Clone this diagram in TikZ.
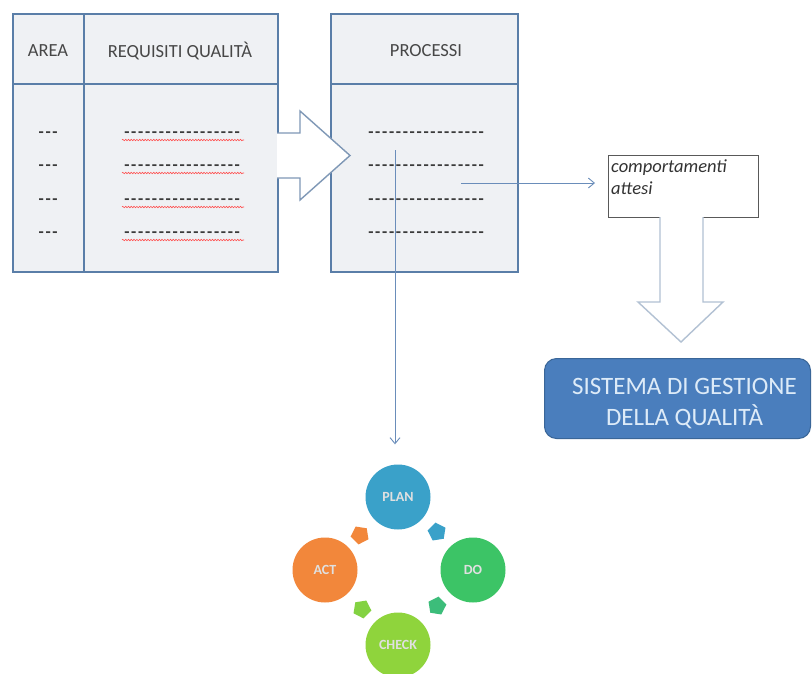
\documentclass[tikz,border=0pt]{standalone}
\usepackage{fontspec}
\setmainfont{Carlito}
\usetikzlibrary{decorations.pathmorphing,arrows.meta,shapes.geometric}

\definecolor{tblborder}{HTML}{5A7EA8}
\definecolor{tblfill}{HTML}{EFF1F4}
\definecolor{bigarrow}{HTML}{7F98B6}
\definecolor{thinarrow}{HTML}{6A8DBA}
\definecolor{sgqfill}{HTML}{4A7EBD}
\definecolor{sgqdraw}{HTML}{3A6698}
\definecolor{sgqtext}{HTML}{DDEBF8}
\definecolor{planc}{HTML}{3AA1C9}
\definecolor{doc}{HTML}{3CC466}
\definecolor{actc}{HTML}{F2873B}
\definecolor{checkc}{HTML}{8FD43C}
\definecolor{dotc}{HTML}{3A3A3A}

\tikzset{
  tablebox/.style={draw=tblborder, line width=1.6pt, fill=tblfill, anchor=north west, inner sep=0pt},
  divider/.style={draw=tblborder, line width=1.6pt},
  headtxt/.style={font=\fontsize{18.5}{20}\selectfont, text=black!72},
  dotrow/.style={font=\fontsize{17}{18}\selectfont\bfseries, text=dotc, inner sep=0pt},
  wavy/.style={draw=red!70, line width=0.6pt, decorate, decoration={snake, amplitude=0.7pt, segment length=2.8pt}},
  hollow/.style={draw=bigarrow, line width=1.4pt, fill=white, line join=miter},
  thin/.style={draw=thinarrow, line width=0.9pt, -{Straight Barb[length=6pt,width=10pt]}},
  pdca/.style={circle, minimum size=65pt, inner sep=0pt, text=white!88!black, font=\fontsize{14}{16}\selectfont\bfseries},
  tick/.style={regular polygon, regular polygon sides=5, minimum size=19pt, inner sep=0pt}
}

\newcommand\dashline[1]{\foreach \k in {1,...,#1}{-\kern1.7pt}}

\begin{document}
\begin{tikzpicture}[x=1pt,y=-1pt]
\useasboundingbox (0,0) rectangle (812,673);
\fill[white] (0,0) rectangle (812,673);

% --- table AREA / REQUISITI QUALITA'
\node[tablebox, minimum width=265pt, minimum height=258pt] (req) at (12,13) {};
\draw[divider] (12,84) -- (277,84);
\draw[divider] (84,13) -- (84,271);
\node[headtxt] (harea) at (48,51) {AREA};
\node[headtxt] (hreq) at (180,51) {REQUISITI QUALITÀ};
\foreach \y/\n in {135/a,168/b,202/c,235/d}{
  \node[dotrow] (area\n) at (49,\y) {\dashline{3}};
  \node[dotrow] (req\n) at (183,\y) {\dashline{17}};
  \draw[wavy] (122,\y+5) -- (244,\y+5);
}

% --- table PROCESSI
\node[tablebox, minimum width=187pt, minimum height=258pt] (proc) at (330,13) {};
\draw[divider] (330,84) -- (517,84);
\node[headtxt] (hproc) at (426,51) {PROCESSI};
\foreach \y/\n in {135/a,168/b,202/c,235/d}{
  \node[dotrow] (proc\n) at (427,\y) {\dashline{17}};
}

% --- block arrow between the tables
\draw[hollow] (277,133) -- (300,133) -- (300,111) -- (350,155.5) -- (300,200) -- (300,178) -- (277,178);

% --- expected behaviours
\node[draw=black!65, line width=0.9pt, fill=white, minimum width=150pt, minimum height=62pt, anchor=north west, inner sep=0pt] (comp) at (608,155) {};
\node[anchor=north west, align=left, inner sep=0pt, font=\fontsize{18.5}{22}\selectfont\itshape, text=black!80] (comptxt) at (611,160) {comportamenti\\attesi};

\coordinate (hstart) at (461,183);
\draw[thin] (hstart) -- ([xshift=-13pt]comp.west |- hstart);

% --- quality management system
\node[rounded corners=12pt, fill=sgqfill, draw=sgqdraw, line width=1pt, minimum width=266pt, minimum height=80pt, anchor=north west, inner sep=0pt] (sgq) at (544,358) {};
\node[align=center, text=sgqtext, font=\fontsize{25}{31}\selectfont] (sgqtxt) at ([xshift=7pt,yshift=-5pt]sgq.center) {SISTEMA DI GESTIONE\\DELLA QUALITÀ};

% --- hollow arrow from behaviours down to the system
\draw[hollow, draw=bigarrow!60] (660,217) -- (660,302) -- (638,302) -- (681,342) -- (723,302) -- (703,302) -- (703,217);

% --- PDCA cycle
\node[pdca, fill=planc] (plan) at (398,497) {PLAN};
\node[pdca, fill=doc] (do) at (473,570) {DO};
\node[pdca, fill=checkc] (check) at (398,645) {CHECK};
\node[pdca, fill=actc] (act) at (325,570) {ACT};

\node[tick, fill=planc, rotate=-135] (t1) at (437,532) {};
\node[tick, fill=doc!80!planc, rotate=135] (t2) at (437,606) {};
\node[tick, fill=checkc!85!doc, rotate=45] (t3) at (362,609) {};
\node[tick, fill=actc, rotate=-45] (t4) at (360,535) {};

% --- from processes down to PLAN
\coordinate (vstart) at (395,150);
\draw[thin, shorten >=20pt] (vstart) -- (vstart |- plan.north);
\end{tikzpicture}
\end{document}
